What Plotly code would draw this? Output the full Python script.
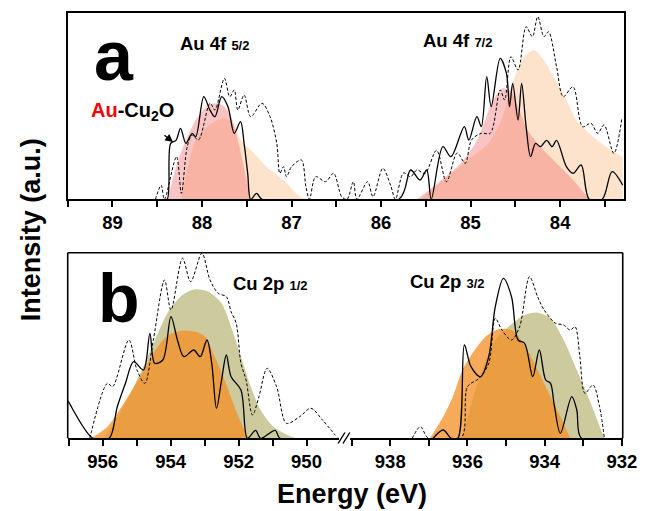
import plotly.graph_objects as go

# ---------------- data (energy in eV, intensity in a.u.) ----------------
# Panel a : Au 4f
a_pink1_x = [88.383, 88.29, 88.18, 88.07, 87.965, 87.856, 87.75, 87.674, 87.62, 87.565, 87.51, 87.456]
a_pink1_y = [0, 32.6, 59, 79, 91, 96, 92.6, 82.6, 66, 46, 22.6, 0]
a_peach1_x = [88.23, 88.07, 87.89, 87.75, 87.64, 87.565, 87.42, 87.28, 87.09, 86.91, 86.84]
a_peach1_y = [0, 59, 76, 81, 74, 59, 46, 32.6, 19, 3, 0]
a_pink2_x = [85.60, 85.347, 85.129, 84.947, 84.838, 84.747, 84.638, 84.547, 84.456, 84.365, 84.22, 84.04, 83.856, 83.675]
a_pink2_y = [0, 17.6, 34.3, 56, 79.3, 99.3, 111, 107.6, 89.3, 69.3, 52.6, 36, 19.3, 0]
a_peach2_x = [85.565, 85.238, 84.984, 84.80, 84.656, 84.547, 84.40, 84.29, 84.183, 84.074, 83.93, 83.82, 83.675, 83.49, 83.30]
a_peach2_y = [0, 24.3, 42.6, 56, 79.3, 112.6, 142.6, 149.3, 139.3, 122.6, 99.3, 79.3, 66, 52.6, 42.6]

a_solid_x = [88.45, 88.39, 88.35, 88.29, 88.24, 88.18, 88.11, 88.07, 87.98, 87.91, 87.856, 87.78, 87.71,
             87.64, 87.57, 87.53, 87.49, 87.456, 87.39, 87.33, 85.80, 85.67, 85.565, 85.49, 85.44, 85.31,
             85.22, 85.07, 85.02, 84.93, 84.88, 84.82, 84.77, 84.67, 84.60, 84.565, 84.53, 84.47, 84.43,
             84.38, 84.33, 84.275, 84.22, 84.15, 84.09, 84.04, 83.93, 83.856, 83.765, 83.675, 83.53, 83.42, 83.30]
a_solid_y = [0, 0, 56, 59, 71, 56, 66, 62.6, 102.6, 89, 82.6, 102.6, 92.6,
             66, 77.6, 56, 26, 0, 6, 0, 0, 29.3, 19.3, 29.3, 0, 52.6,
             42.6, 72.6, 59.3, 82.6, 72.6, 122.6, 92.6, 141, 126, 92.6, 116, 79.3, 116,
             72.6, 42.6, 56, 52.6, 59, 52.6, 59, 32.6, 26, 34.3, 0, 0, 27.6, 14]

a_dash_x = [88.52, 88.456, 88.42, 88.285, 88.23, 88.165, 88.11, 88.04, 87.91, 87.856, 87.75, 87.69, 87.64,
            87.60, 87.53, 87.456, 87.33, 87.24, 87.165, 87.13, 87.09, 87.056, 87.00, 86.89, 86.84, 86.80,
            86.73, 86.62, 86.53, 86.44, 86.38, 86.31, 86.27, 86.15, 86.09, 85.98, 85.89, 85.84, 85.75,
            85.67, 85.60, 85.51, 85.38, 85.27, 85.15, 85.06, 84.99, 84.88, 84.78, 84.67, 84.62, 84.55,
            84.47, 84.38, 84.31, 84.25, 84.18, 84.13, 84.04, 83.965, 83.856, 83.75, 83.656, 83.58, 83.51,
            83.40, 83.31]
a_dash_y = [0, 14, 0, 42.6, 6, 52.6, 64.3, 59.3, 96, 89.3, 121, 102.6, 109.3,
            89.3, 104.3, 82.6, 96, 82.6, 56, 26, 32.6, 22.6, 32.6, 39.3, 13, 0,
            22.6, 17.6, 26, 2.6, 0, 17.6, 0, 17.6, 2.6, 31, 13, 0, 26.3,
            22.6, 29.3, 26, 49, 17.6, 46.3, 36, 59.3, 66, 66, 109.3, 99.3, 142.6,
            129.3, 172.6, 162.6, 182.6, 162.6, 167.6, 132.6, 102.6, 112.6, 72.6, 76, 66, 74.3,
            46, 81]

# Panel b : Cu 2p (left segment 957-949 eV, right segment 939-932 eV)
b_olive_l_x = [955.95, 955.38, 954.80, 954.42, 954.04, 953.65, 953.27, 952.89, 952.50, 952.22, 951.93, 951.64, 951.35, 950.97, 950.40, 950.30]
b_olive_l_y = [0, 32, 72, 101.6, 128.3, 143.3, 149, 146.6, 135, 111.6, 81.6, 51.6, 28.3, 11.6, 1, 0]
b_orange_l_x = [956.34, 955.86, 955.38, 954.90, 954.51, 954.13, 953.75, 953.27, 952.98, 952.70, 952.41, 952.12, 951.83, 951.69]
b_orange_l_y = [0, 11.6, 35, 61.6, 85, 101.6, 107.3, 106.6, 101.6, 81.6, 58.3, 31.6, 8.3, 0]
b_olive_r_x = [936.13, 935.87, 935.62, 935.28, 934.94, 934.52, 934.185, 933.85, 933.51, 933.17, 932.84, 932.54, 932.455]
b_olive_r_y = [0, 38.3, 68.3, 98.3, 111.6, 123.3, 125.6, 120, 98.3, 68.3, 38.3, 8.3, 0]
b_orange_r_x = [936.97, 936.63, 936.38, 936.13, 935.87, 935.53, 935.20, 934.86, 934.61, 934.355, 934.10, 933.85, 933.595, 933.34]
b_orange_r_y = [0, 21.6, 41.6, 68.3, 85, 101.6, 109, 108.3, 98.3, 81.6, 61.6, 41.6, 21.6, 0]

b_solid_l_x = [957.05, 957.01, 956.29, 955.81, 955.57, 955.33, 955.09, 954.80, 954.61, 954.47, 954.23, 953.99,
               953.80, 953.61, 953.32, 953.13, 952.93, 952.79, 952.65, 952.50, 952.36, 952.22, 951.93, 951.74,
               951.50, 951.35, 950.92, 950.78, 949.0]
b_solid_l_y = [38.5, 36.6, 0, 0, 31.6, 55, 76.6, 68.3, 105, 75, 78.3, 121.6,
               98.3, 81.6, 88.3, 81.6, 98.3, 75, 30, 58.3, 83.3, 61.6, 48.3, 0,
               8, 0, 8, 0, 0]
b_dash_l_x = [956.38, 955.86, 955.71, 955.23, 954.99, 954.76, 954.51, 954.18, 953.99, 953.65, 953.41, 953.08,
              952.84, 952.60, 952.36, 952.22, 952.07, 951.93, 951.78, 951.59, 951.40, 951.16, 950.88, 950.59,
              950.20, 949.87, 949.53, 949.15]
b_dash_l_y = [0, 55, 51.6, 98.3, 68.3, 55, 98.3, 158.3, 128.3, 180, 156.6, 185,
              158.3, 145, 141.6, 126.6, 115, 75, 58.3, 23.3, 41.6, 70, 51.6, 15,
              21.6, 30, 18.3, 3]
b_solid_r_x = [936.89, 936.63, 936.42, 936.25, 936.08, 935.91, 935.66, 935.45, 935.28, 935.07, 934.86, 934.69,
               934.52, 934.31, 934.14, 933.975, 933.85, 933.76, 933.595, 933.30, 933.17, 933.05, 932.0]
b_solid_r_y = [0, 8.3, 0, 0, 93.3, 71.6, 61.6, 81.6, 131.6, 160, 141.6, 98.3,
               95, 61.6, 88.3, 58.3, 55, 35, 5, 41.6, 28.3, 0, 0]
b_dash_r_x = [937.43, 937.22, 937.01, 936.17, 936.00, 935.70, 935.45, 935.28, 935.11, 934.86, 934.65, 934.395,
              934.185, 934.015, 933.72, 933.51, 933.34, 933.215, 933.09, 932.96, 932.75, 932.58, 932.455]
b_dash_r_y = [0, 11.6, 0, 0, 51.6, 60, 75, 120, 108.3, 98.3, 111.6, 161.6,
              141.6, 128.3, 115, 113.3, 108.3, 111.6, 81.6, 45, 53.3, 31.6, 0]

# ---------------- layout helpers ----------------
W, H = 656, 511
def X(px):
    return px / W
def Y(py):
    return 1 - py / H

PINK = "rgba(240,107,107,0.40)"
PEACH = "rgb(253,227,203)"
OLIVE = "rgb(205,203,157)"
ORANGE = "rgba(243,142,35,0.75)"
FONT = "Liberation Sans, Arial, sans-serif"

fig = go.Figure()

def fill(x, y, color, xa, ya):
    fig.add_trace(go.Scatter(x=x, y=y, mode="lines", line=dict(width=0, shape="spline", smoothing=0.8),
                             fill="tozeroy", fillcolor=color, xaxis=xa, yaxis=ya, hoverinfo="skip"))

def line(x, y, dash, width, xa, ya):
    fig.add_trace(go.Scatter(x=x, y=y, mode="lines",
                             line=dict(color="black", width=width, dash=dash, shape="spline", smoothing=0.9),
                             xaxis=xa, yaxis=ya, hoverinfo="skip"))

# panel a
fill(a_peach1_x, a_peach1_y, PEACH, "x", "y")
fill(a_peach2_x, a_peach2_y, PEACH, "x", "y")
fill(a_pink1_x, a_pink1_y, PINK, "x", "y")
fill(a_pink2_x, a_pink2_y, PINK, "x", "y")
line(a_dash_x, a_dash_y, "3px,2px", 1.0, "x", "y")
line(a_solid_x, a_solid_y, "solid", 1.3, "x", "y")

# panel b
fill(b_olive_l_x, b_olive_l_y, OLIVE, "x2", "y2")
fill(b_orange_l_x, b_orange_l_y, ORANGE, "x2", "y2")
fill(b_olive_r_x, b_olive_r_y, OLIVE, "x3", "y2")
fill(b_orange_r_x, b_orange_r_y, ORANGE, "x3", "y2")
line(b_dash_l_x, b_dash_l_y, "3px,2px", 1.0, "x2", "y2")
line(b_solid_l_x, b_solid_l_y, "solid", 1.3, "x2", "y2")
line(b_dash_r_x, b_dash_r_y, "3px,2px", 1.0, "x3", "y2")
line(b_solid_r_x, b_solid_r_y, "solid", 1.3, "x3", "y2")

tickfont = dict(family=FONT, size=18.5, color="black", weight="bold")
def xax(rng, dom, anchor, dtick, mdtick, mirror):
    return dict(range=rng, domain=dom, anchor=anchor, showgrid=False, zeroline=False,
                showline=True, linecolor="black", linewidth=1.6, mirror=mirror,
                ticks="outside", ticklen=6, tickwidth=1.5, tickcolor="black", dtick=dtick, tick0=0,
                minor=dict(dtick=mdtick, ticks="outside", ticklen=6, tickwidth=1.5, tickcolor="black", showgrid=False),
                tickfont=tickfont)

fig.update_layout(
    width=W, height=H, margin=dict(l=0, r=0, t=0, b=0),
    paper_bgcolor="white", plot_bgcolor="rgba(0,0,0,0)", showlegend=False,
    xaxis=xax([89.5, 83.29], [X(69.3), X(638.3)], "y", 1, 0.5, True),
    yaxis=dict(range=[0, 186], domain=[Y(199.3), Y(13.3)], anchor="x", showgrid=False, zeroline=False,
               showline=True, linecolor="black", linewidth=1.6, mirror=True, ticks="", showticklabels=False),
    xaxis2=xax([957.03, 949.05], [X(69.3), X(346.7)], "y2", 2, 1, False),
    xaxis3=xax([939.04, 931.98], [X(358.3), X(637.3)], "y2", 2, 1, False),
    yaxis2=dict(range=[0, 185.6], domain=[Y(438.3), Y(252.7)], anchor="x2", showgrid=False, zeroline=False,
                showline=False, ticks="", showticklabels=False),
)

# panel b frame (top, left, right) and axis-break marks
lw = 1.6
for (x0, y0, x1, y1) in [(69.3, 252.7, 637.3, 252.7), (69.3, 252.7, 69.3, 438.3), (637.3, 252.7, 637.3, 438.3)]:
    fig.add_shape(type="line", xref="paper", yref="paper", x0=X(x0), y0=Y(y0), x1=X(x1), y1=Y(y1),
                  line=dict(color="black", width=lw))
for (x0, y0, x1, y1) in [(346, 443.5, 353, 432.5), (351, 443.5, 358, 432.5)]:
    fig.add_shape(type="line", xref="paper", yref="paper", x0=X(x0), y0=Y(y0), x1=X(x1), y1=Y(y1),
                  line=dict(color="black", width=1.4))

def ann(text, px, py, size, xanchor="left", **kw):
    fig.add_annotation(text=text, x=X(px), y=Y(py), xref="paper", yref="paper", showarrow=False,
                       xanchor=xanchor, yanchor="middle",
                       font=dict(family=FONT, size=size, color="black", weight="bold"), **kw)

ann("a", 116.5, 55.5, 70, "center")
ann("b", 121.5, 298, 68, "center")
ann("Au 4f <span style='font-size:13px'>5/2</span>", 182, 43.5, 18.5)
ann("Au 4f <span style='font-size:13px'>7/2</span>", 431, 40.2, 18.5)
ann("Cu 2p <span style='font-size:13px'>1/2</span>", 236, 283.5, 18.5)
ann("Cu 2p <span style='font-size:13px'>3/2</span>", 418, 281.8, 18.5)
ann("<span style='color:#ff0000'>Au</span>-Cu<sub>2</sub>O", 91.5, 111, 20)
ann("Energy (eV)", 360, 493.8, 27, "center")
ann("Intensity (a.u.)", 32, 230, 27, "center", textangle=-90)

# arrow pointing to the Au-Cu2O curve
fig.add_annotation(x=X(177), y=Y(142), xref="paper", yref="paper", ax=-10, ay=-8,
                   axref="pixel", ayref="pixel", showarrow=True, arrowhead=2, arrowsize=1.2,
                   arrowwidth=1.3, arrowcolor="black", text="")

fig.write_html("out.html")
